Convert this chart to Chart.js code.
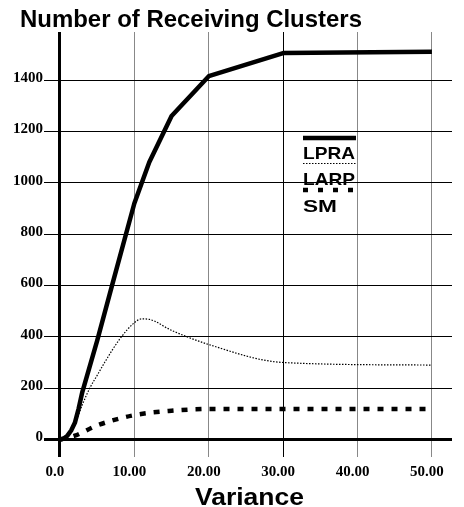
<!DOCTYPE html>
<html lang="en">
  <head>
    <meta charset="UTF-8" />
    <title>Number of Receiving Clusters</title>
    <style>
      body {
        margin: 0;
        background: #fff;
      }
      .chart-container {
        position: relative;
        width: 464px;
        height: 507px;
      }
    </style>
    <script src="https://cdn.jsdelivr.net/npm/chart.js"></script>
  </head>
  <body>
    <div class="chart-container">
      <canvas id="myChart"></canvas>
    </div>

    <script>
      // values
      const lpraX = [0, 0.5, 1, 1.5, 2, 2.5, 3, 5, 7, 10, 12, 15, 20, 30, 50];
      const lpraY = [0, 4, 15, 35, 65, 120, 185, 385, 600, 920, 1080, 1260, 1415, 1505, 1510];

      const larpX = [0, 1, 2, 3, 4, 5, 6, 8, 10, 11, 12, 15, 20, 30, 50];
      const larpY = [0, 15, 60, 135, 200, 250, 300, 390, 455, 470, 468, 425, 370, 300, 290];

      const smX = [0, 2, 5, 10, 15, 20, 30, 50];
      const smY = [0, 15, 55, 95, 112, 119, 119, 119];

      const xTicks = [0, 10, 20, 30, 40, 50];
      const yTicks = [0, 200, 400, 600, 800, 1000, 1200, 1400];

      const seriesNames = ['LPRA', 'LARP', 'SM'];

      function toPoints(xs, ys) {
        return xs.map((x, i) => ({ x: x, y: ys[i] }));
      }

      // draw text squeezed/stretched to a given width
      function fitText(ctx, text, x, baseline, font, width) {
        ctx.save();
        ctx.font = font;
        ctx.fillStyle = '#000';
        ctx.textBaseline = 'alphabetic';
        ctx.textAlign = 'left';
        const w = ctx.measureText(text).width;
        ctx.translate(x, baseline);
        ctx.scale(width / w, 1);
        ctx.fillText(text, 0, 0);
        ctx.restore();
      }

      function legendLine(ctx, y, width, dash) {
        ctx.save();
        ctx.strokeStyle = '#000';
        ctx.lineWidth = width;
        ctx.setLineDash(dash);
        ctx.beginPath();
        ctx.moveTo(303, y);
        ctx.lineTo(356, y);
        ctx.stroke();
        ctx.restore();
      }

      const decorations = {
        id: 'decorations',
        afterDraw(chart) {
          const ctx = chart.ctx;
          fitText(ctx, 'Number of Receiving Clusters', 20, 27, 'bold 24px "Liberation Sans"', 342);
          fitText(ctx, 'Variance', 195, 505, 'bold 24px "Liberation Sans"', 109);

          legendLine(ctx, 138, 4.5, []);
          fitText(ctx, seriesNames[0], 303, 159, 'bold 17px "Liberation Sans"', 52);
          legendLine(ctx, 163.5, 1, [1.5, 1.5]);
          fitText(ctx, seriesNames[1], 303, 185, 'bold 17px "Liberation Sans"', 52);
          legendLine(ctx, 190, 4.5, [5, 10]);
          fitText(ctx, seriesNames[2], 303, 212, 'bold 17px "Liberation Sans"', 34);
        }
      };

      const ctx = document.getElementById('myChart').getContext('2d');

      const myChart = new Chart(ctx, {
        type: 'line',
        data: {
          datasets: [
            {
              label: seriesNames[0],
              data: toPoints(lpraX, lpraY),
              borderColor: '#000',
              borderWidth: 4.5,
              pointRadius: 0,
              tension: 0,
              borderJoinStyle: 'round',
              fill: false
            },
            {
              label: seriesNames[1],
              data: toPoints(larpX, larpY),
              borderColor: '#000',
              borderWidth: 1.2,
              borderDash: [1.5, 1.5],
              pointRadius: 0,
              cubicInterpolationMode: 'monotone',
              fill: false
            },
            {
              label: seriesNames[2],
              data: toPoints(smX, smY),
              borderColor: '#000',
              borderWidth: 4.5,
              borderDash: [6, 8],
              pointRadius: 0,
              cubicInterpolationMode: 'monotone',
              fill: false
            }
          ]
        },
        options: {
          responsive: true,
          maintainAspectRatio: false,
          animation: false,
          layout: {
            padding: { top: 32, right: 12, bottom: 0, left: 0 }
          },
          plugins: {
            legend: { display: false },
            title: { display: false },
            tooltip: { enabled: false }
          },
          scales: {
            x: {
              type: 'linear',
              min: -2.15,
              max: 52.7,
              afterBuildTicks: axis => {
                axis.ticks = xTicks.map(v => ({ value: v }));
              },
              afterFit: axis => {
                axis.height = 50;
              },
              border: { display: false },
              grid: {
                drawTicks: false,
                color: c => (c.tick && (c.tick.value === 0 || c.tick.value === 30)) ? '#000' : '#888',
                lineWidth: c => (c.tick && c.tick.value === 0) ? 3 : 1
              },
              ticks: {
                padding: 6,
                labelOffset: -5,
                maxRotation: 0,
                color: '#000',
                font: { family: '"Liberation Serif"', size: 15, weight: 'bold' },
                callback: v => v === 0 ? '0.0' : v.toFixed(2)
              }
            },
            y: {
              min: -68,
              max: 1587,
              afterBuildTicks: axis => {
                axis.ticks = yTicks.map(v => ({ value: v }));
              },
              afterFit: axis => {
                axis.width = 44;
              },
              border: { display: false },
              grid: {
                drawTicks: false,
                color: '#000',
                lineWidth: c => (c.tick && c.tick.value === 0) ? 3 : 1
              },
              ticks: {
                padding: 1,
                labelOffset: -2,
                color: '#000',
                font: { family: '"Liberation Serif"', size: 15, weight: 'bold' },
                callback: v => String(v)
              }
            }
          }
        },
        plugins: [decorations]
      });
    </script>
  </body>
</html>
